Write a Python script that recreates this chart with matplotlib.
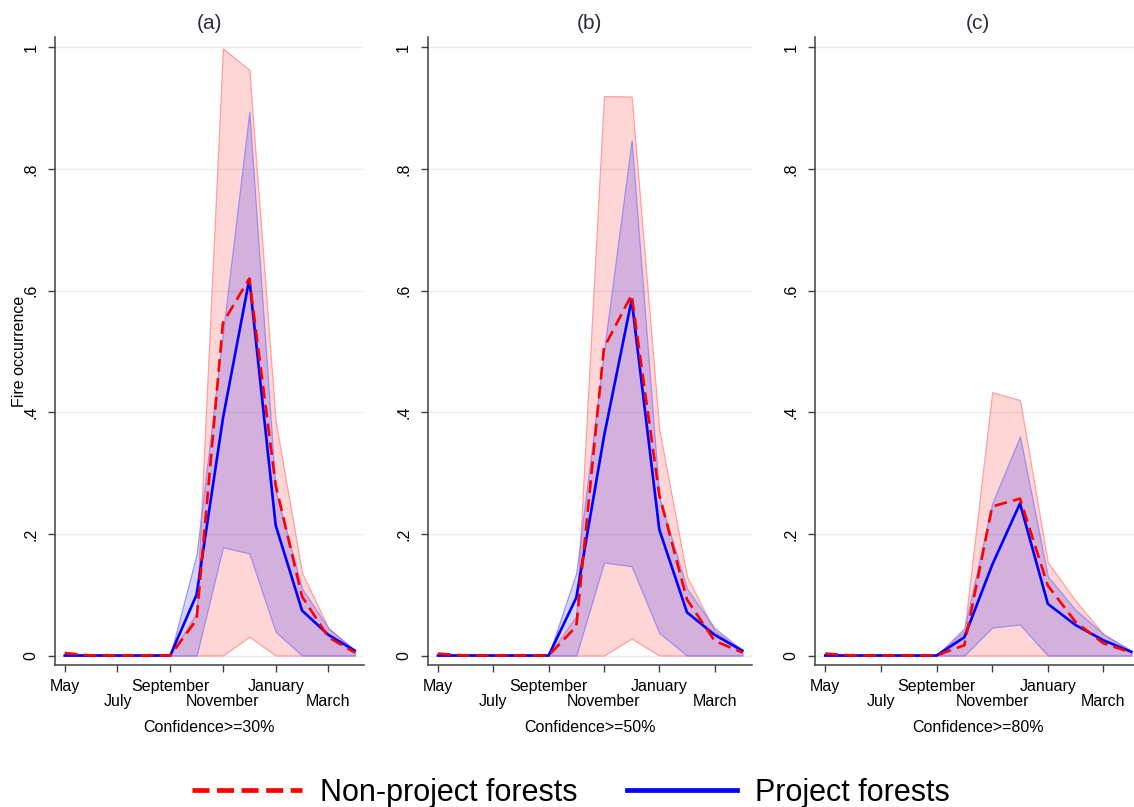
import matplotlib
matplotlib.use("Agg")
from matplotlib import pyplot as plt
from matplotlib.lines import Line2D
import numpy as np

plt.rcParams['font.family'] = ['Liberation Sans', 'DejaVu Sans']

# months May .. April
months = ['May', 'June', 'July', 'August', 'September', 'October',
          'November', 'December', 'January', 'February', 'March', 'April']
tick_labels = ['May', 'July', 'September', 'November', 'January', 'March']
panel_titles = ['(a)', '(b)', '(c)']
panel_xlabels = ['Confidence>=30%', 'Confidence>=50%', 'Confidence>=80%']

# (a) confidence >= 30%
nonproj_a = [0.004, 0, 0, 0, 0, 0.059, 0.547, 0.62, 0.28, 0.097, 0.03, 0.005]
nonproj_lo_a = [0, 0, 0, 0, 0, 0, 0, 0.031, 0, 0, 0, 0]
nonproj_hi_a = [0.006, 0, 0, 0, 0, 0.07, 0.998, 0.963, 0.385, 0.136, 0.045, 0.008]
proj_a = [0, 0, 0, 0, 0, 0.10, 0.39, 0.619, 0.214, 0.074, 0.034, 0.008]
proj_lo_a = [0, 0, 0, 0, 0, 0, 0.178, 0.168, 0.039, 0, 0, 0]
proj_hi_a = [0, 0, 0, 0, 0, 0.166, 0.53, 0.894, 0.27, 0.11, 0.045, 0.009]

# (b) confidence >= 50%
nonproj_b = [0.003, 0, 0, 0, 0, 0.048, 0.506, 0.593, 0.264, 0.092, 0.024, 0.005]
nonproj_lo_b = [0, 0, 0, 0, 0, 0, 0, 0.028, 0, 0, 0, 0]
nonproj_hi_b = [0.005, 0, 0, 0, 0, 0.065, 0.92, 0.919, 0.371, 0.13, 0.04, 0.008]
proj_b = [0, 0, 0, 0, 0, 0.095, 0.36, 0.585, 0.207, 0.071, 0.034, 0.008]
proj_lo_b = [0, 0, 0, 0, 0, 0, 0.153, 0.147, 0.037, 0, 0, 0]
proj_hi_b = [0, 0, 0, 0, 0, 0.136, 0.5, 0.847, 0.26, 0.11, 0.045, 0.009]

# (c) confidence >= 80%
nonproj_c = [0.003, 0, 0, 0, 0, 0.017, 0.245, 0.258, 0.115, 0.055, 0.02, 0.005]
nonproj_lo_c = [0, 0, 0, 0, 0, 0, 0, 0, 0, 0, 0, 0]
nonproj_hi_c = [0.005, 0, 0, 0, 0, 0.04, 0.433, 0.42, 0.153, 0.09, 0.035, 0.008]
proj_c = [0, 0, 0, 0, 0, 0.03, 0.149, 0.25, 0.085, 0.05, 0.025, 0.006]
proj_lo_c = [0, 0, 0, 0, 0, 0, 0.046, 0.051, 0, 0, 0, 0]
proj_hi_c = [0, 0, 0, 0, 0, 0.045, 0.25, 0.36, 0.13, 0.075, 0.035, 0.008]

panels = [
    (nonproj_a, nonproj_lo_a, nonproj_hi_a, proj_a, proj_lo_a, proj_hi_a),
    (nonproj_b, nonproj_lo_b, nonproj_hi_b, proj_b, proj_lo_b, proj_hi_b),
    (nonproj_c, nonproj_lo_c, nonproj_hi_c, proj_c, proj_lo_c, proj_hi_c),
]

W, H = 1134, 807
fig = plt.figure(figsize=(W / 100, H / 100), dpi=100)

# axes boxes in pixels: left, right
boxes = [(55, 364), (427.7, 752), (815, 1141)]
top_px, bot_px = 37, 665

x = np.arange(len(months))
axis_col = '#404040'

for i, (np_m, np_lo, np_hi, p_m, p_lo, p_hi) in enumerate(panels):
    l, r = boxes[i]
    ax = fig.add_axes([l / W, 1 - bot_px / H, (r - l) / W, (bot_px - top_px) / H])

    ax.fill_between(x, np_lo, np_hi, facecolor=(1, 0, 0, 0.16),
                    edgecolor=(1, 0.55, 0.55, 0.8), linewidth=0.9, zorder=2)
    ax.fill_between(x, p_lo, p_hi, facecolor=(0, 0, 1, 0.17),
                    edgecolor=(0.55, 0.5, 0.95, 0.8), linewidth=0.9, zorder=3)
    ax.plot(x, np_m, color='red', lw=1.9, dashes=(4.8, 2.4), zorder=5)
    ax.plot(x, p_m, color='blue', lw=1.9, zorder=4)

    ax.set_xlim(-0.37, 11.35)
    ax.set_ylim(-0.0156, 1.017)

    for s in ['top', 'right']:
        ax.spines[s].set_visible(False)
    for s in ['left', 'bottom']:
        ax.spines[s].set_color(axis_col)
        ax.spines[s].set_linewidth(1.1)

    ax.set_yticks([0, 0.2, 0.4, 0.6, 0.8, 1.0])
    ax.set_yticklabels(['0', '.2', '.4', '.6', '.8', '1'], rotation=90, va='center')
    ax.yaxis.grid(True, color='#e6eeee', lw=1.0)
    ax.set_axisbelow(True)

    # staggered month labels: first row on major ticks, second row on minor ticks
    ax.set_xticks([0, 4, 8])
    ax.set_xticklabels([tick_labels[0], tick_labels[2], tick_labels[4]])
    ax.set_xticks([2, 6, 10], minor=True)
    ax.set_xticklabels([tick_labels[1], tick_labels[3], tick_labels[5]], minor=True)
    ax.tick_params(axis='x', which='major', length=5, width=1.0, color=axis_col,
                   labelsize=11.5, pad=5)
    ax.tick_params(axis='x', which='minor', length=5, width=1.0, color=axis_col,
                   labelsize=11.5, pad=16)
    ax.tick_params(axis='y', length=5, width=1.0, color=axis_col,
                   labelsize=11.5, pad=7)

    ax.set_xlabel(panel_xlabels[i], fontsize=11.5, labelpad=8)
    ax.set_title(panel_titles[i], fontsize=15, color='#2a2f3a', pad=6)
    if i == 0:
        ax.set_ylabel('Fire occurrence', fontsize=11.5, labelpad=-3)

handles = [Line2D([], [], color='red', lw=3.4, dashes=(3.6, 1.6)),
           Line2D([], [], color='blue', lw=3.4)]
fig.legend(handles, ['Non-project forests', 'Project forests'], loc='center',
           bbox_to_anchor=(571 / W, 1 - 793 / H), ncol=2, frameon=False,
           fontsize=22, handlelength=3.6, handletextpad=0.6, columnspacing=1.6)

fig.savefig('out.png', dpi=100)
